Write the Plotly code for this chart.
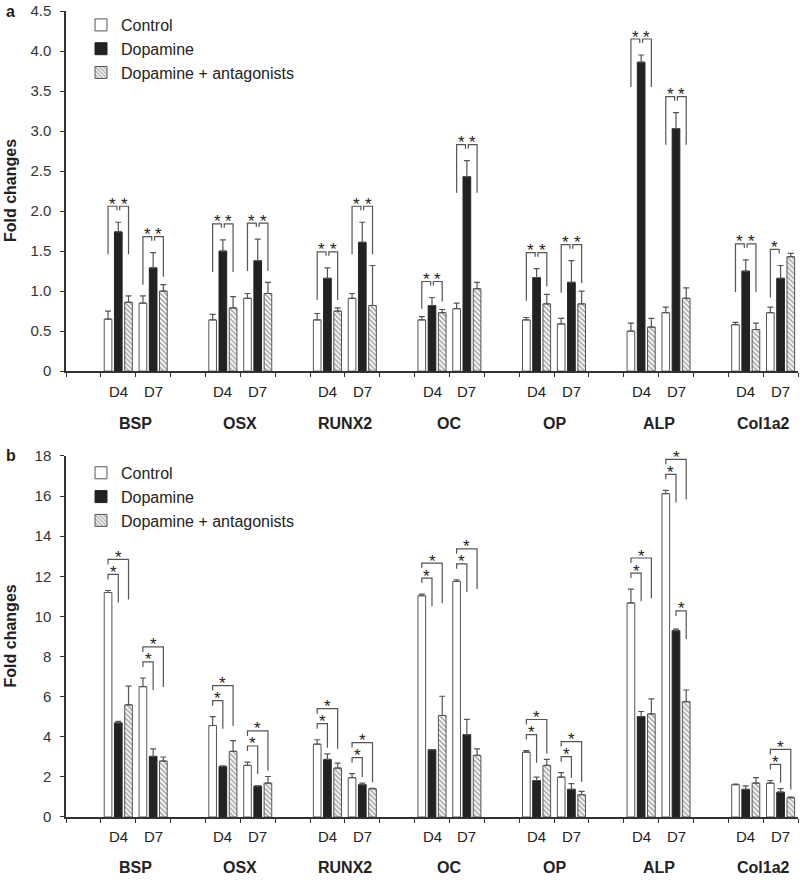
import plotly.graph_objects as go

# ---------------- data ----------------
genes = ["BSP", "OSX", "RUNX2", "OC", "OP", "ALP", "Col1a2"]
days = ["D4", "D7"]
series_names = ["Control", "Dopamine", "Dopamine + antagonists"]

# panel a (gene-major, day-minor: BSP D4, BSP D7, OSX D4, ...)
a_control = [0.65, 0.85, 0.64, 0.91, 0.64, 0.91, 0.64, 0.78, 0.64, 0.59, 0.50, 0.73, 0.58, 0.73]
a_control_err = [0.10, 0.09, 0.07, 0.06, 0.08, 0.06, 0.04, 0.07, 0.03, 0.07, 0.10, 0.07, 0.03, 0.07]
a_dopamine = [1.74, 1.29, 1.50, 1.38, 1.16, 1.61, 0.82, 2.43, 1.17, 1.11, 3.86, 3.03, 1.25, 1.16]
a_dopamine_err = [0.12, 0.19, 0.14, 0.27, 0.13, 0.25, 0.10, 0.20, 0.11, 0.27, 0.09, 0.20, 0.14, 0.16]
a_antag = [0.86, 1.00, 0.79, 0.97, 0.75, 0.82, 0.73, 1.03, 0.84, 0.84, 0.55, 0.91, 0.52, 1.43]
a_antag_err = [0.08, 0.08, 0.14, 0.14, 0.04, 0.50, 0.04, 0.08, 0.12, 0.16, 0.11, 0.13, 0.08, 0.04]

# panel b
b_control = [11.19, 6.50, 4.56, 2.57, 3.63, 1.96, 11.03, 11.74, 3.23, 1.99, 10.67, 16.12, 1.61, 1.69]
b_control_err = [0.10, 0.43, 0.44, 0.17, 0.22, 0.20, 0.08, 0.08, 0.08, 0.22, 0.69, 0.16, 0.03, 0.13]
b_dopamine = [4.69, 3.02, 2.52, 1.54, 2.87, 1.61, 3.35, 4.11, 1.82, 1.38, 5.01, 9.29, 1.38, 1.24]
b_dopamine_err = [0.08, 0.38, 0.03, 0.03, 0.28, 0.08, 0.00, 0.76, 0.17, 0.28, 0.25, 0.08, 0.17, 0.17]
b_antag = [5.59, 2.79, 3.27, 1.69, 2.44, 1.41, 5.06, 3.07, 2.57, 1.11, 5.14, 5.75, 1.69, 0.96]
b_antag_err = [0.93, 0.20, 0.54, 0.33, 0.25, 0.02, 0.96, 0.33, 0.30, 0.17, 0.75, 0.58, 0.27, 0.03]

# significant comparisons (0=Control, 1=Dopamine, 2=Dopamine + antagonists)
a_sig = [[(0, 1), (1, 2)]] * 13 + [[(0, 1)]]
b_sig = [[(0, 1), (0, 2)]] * 11 + [[(0, 1), (0, 2), (1, 2)], [], [(0, 1), (0, 2)]]

a_ticks = [0, 0.5, 1.0, 1.5, 2.0, 2.5, 3.0, 3.5, 4.0, 4.5]
a_ticktext = ["0", "0.5", "1.0", "1.5", "2.0", "2.5", "3.0", "3.5", "4.0", "4.5"]
b_ticks = [0, 2, 4, 6, 8, 10, 12, 14, 16, 18]
b_ticktext = [str(v) for v in b_ticks]

# ---------------- layout constants ----------------
FONT = "Liberation Sans, Arial, sans-serif"
BARGAP = 0.12
BARGROUPGAP = 0.25
SLOT = (1 - BARGAP) / 3
LINEC = "#555555"
TEXTC = "#222222"

xpos = [3 * g + 1 + d for g in range(len(genes)) for d in range(len(days))]
ncat = 3 * len(genes)

styles = [
    dict(color="white", line=dict(color=LINEC, width=1)),
    dict(color="#222222", line=dict(color="#222222", width=1)),
    dict(color="white", line=dict(color=LINEC, width=1),
         pattern=dict(shape="\\", fgcolor="#4a4a4a", bgcolor="white", size=3.5, solidity=0.45)),
]

fig = go.Figure()

panels = [
    dict(xa="x", ya="y", leg="legend",
         vals=[a_control, a_dopamine, a_antag], errs=[a_control_err, a_dopamine_err, a_antag_err]),
    dict(xa="x2", ya="y2", leg="legend2",
         vals=[b_control, b_dopamine, b_antag], errs=[b_control_err, b_dopamine_err, b_antag_err]),
]

for p in panels:
    for k in range(3):
        fig.add_trace(go.Bar(
            x=xpos, y=p["vals"][k], name=series_names[k],
            marker=styles[k],
            error_y=dict(type="data", array=p["errs"][k], arrayminus=[0] * len(xpos),
                         symmetric=False, color=LINEC, thickness=1.2, width=3),
            xaxis=p["xa"], yaxis=p["ya"], legend=p["leg"], hoverinfo="skip",
        ))

shapes = []
annotations = []


def path(pts, xref, yref):
    d = "M " + " L ".join(f"{x:.4f},{y:.4f}" for x, y in pts)
    return dict(type="path", path=d, xref=xref, yref=yref,
                line=dict(color=LINEC, width=1.2), layer="above")


def star(x, y, xref, yref):
    return dict(x=x, y=y, xref=xref, yref=yref, text="*", showarrow=False,
                font=dict(family=FONT, size=17, color=TEXTC), yanchor="middle", yshift=2)


# panel a brackets
PAD_A, LEG_A, SHORT_A, DELTA = 0.2, 0.6, 0.05, 0.04
for i, xi in enumerate(xpos):
    tops = [a_control[i] + a_control_err[i], a_dopamine[i] + a_dopamine_err[i], a_antag[i] + a_antag_err[i]]
    cx = [xi + (k - 1) * SLOT for k in range(3)]
    pairs = a_sig[i]
    if not pairs:
        continue
    inv = sorted({k for pr in pairs for k in pr})
    top = max(tops[k] for k in inv) + PAD_A
    for (pa, pb) in pairs:
        if pa == 0:
            xl, xr = cx[0], cx[1] - DELTA
            yl = max(top - LEG_A, tops[0] + 0.1)
            yr = top - SHORT_A
        else:
            xl, xr = cx[1] + DELTA, cx[2]
            yl = top - SHORT_A
            yr = max(top - LEG_A, tops[2] + 0.1)
        shapes.append(path([(xl, yl), (xl, top), (xr, top), (xr, yr)], "x", "y"))
        annotations.append(star((xl + xr) / 2, top, "x", "y"))

# panel b brackets
PAD_B, STEP_B, SHORT_B = 0.8, 0.75, 0.25
for i, xi in enumerate(xpos):
    tops = [b_control[i] + b_control_err[i], b_dopamine[i] + b_dopamine_err[i], b_antag[i] + b_antag_err[i]]
    cx = [xi + (k - 1) * SLOT for k in range(3)]
    inner = max(tops[0], tops[1]) + PAD_B
    for (pa, pb) in b_sig[i]:
        if (pa, pb) == (0, 1):
            top = inner
            yr = max(top - 1.4, tops[1] + 0.3)
        elif (pa, pb) == (0, 2):
            top = inner + STEP_B
            yr = max(top - 2.0, tops[2] + 0.3)
        else:
            top = max(tops[1], tops[2]) + 0.9
            yr = max(top - 1.4, tops[2] + 0.3)
        xl, xr = cx[pa], cx[pb]
        shapes.append(path([(xl, top - SHORT_B), (xl, top), (xr, top), (xr, yr)], "x2", "y2"))
        annotations.append(star((xl + xr) / 2, top, "x2", "y2"))

# category labels, underlines, gene names
for xa, ya, gshift in [("x", "y", -52), ("x2", "y2", -51)]:
    for g, gene in enumerate(genes):
        for d, day in enumerate(days):
            annotations.append(dict(x=3 * g + 1 + d, y=0, xref=xa, yref=ya, text=day, showarrow=False,
                                    yanchor="middle", yshift=-20,
                                    font=dict(family=FONT, size=15, color=TEXTC)))
        shapes.append(dict(type="line", xref=xa, yref=ya, ysizemode="pixel", yanchor=0,
                           x0=3 * g + 0.5, x1=3 * g + 2.62, y0=-34.5, y1=-34.5,
                           line=dict(color="#333333", width=1.3)))
        annotations.append(dict(x=3 * g + 1.5, y=0, xref=xa, yref=ya, text=f"<b>{gene}</b>",
                                showarrow=False, yanchor="middle", yshift=gshift,
                                font=dict(family=FONT, size=16, color=TEXTC)))

# panel letters and y titles
L, R, T, B = 66, 2, 9, 64
W, H = 800, 881
PW, PH = W - L - R, H - T - B
A_DOM = [(817 - 370) / PH, 1.0]
B_DOM = [0.0, (817 - 455) / PH]


def px_x(px):
    return (px - L) / PW


def px_y(py):
    return (H - B - py) / PH


annotations.append(dict(x=px_x(10), y=px_y(10), xref="paper", yref="paper", text="<b>a</b>",
                        showarrow=False, xanchor="center", yanchor="middle",
                        font=dict(family=FONT, size=16, color=TEXTC)))
annotations.append(dict(x=px_x(11), y=px_y(455), xref="paper", yref="paper", text="<b>b</b>",
                        showarrow=False, xanchor="center", yanchor="middle",
                        font=dict(family=FONT, size=16, color=TEXTC)))
for cy in [(9 + 370) / 2, (455 + 817) / 2]:
    annotations.append(dict(x=px_x(10), y=px_y(cy), xref="paper", yref="paper",
                            text="<b>Fold changes</b>", textangle=-90, showarrow=False,
                            xanchor="center", yanchor="middle",
                            font=dict(family=FONT, size=16, color=TEXTC)))

xaxis_common = dict(range=[-0.5, ncat - 0.5], showline=True, linecolor="#333333", linewidth=1.5,
                    ticks="outside", ticklen=4, tickwidth=1.3, tickcolor="#333333",
                    tickvals=[i - 0.5 for i in range(ncat + 1)], showticklabels=False,
                    showgrid=False, zeroline=False, fixedrange=True)
yaxis_common = dict(showline=True, linecolor="#333333", linewidth=1.5,
                    ticks="outside", ticklen=4, tickwidth=1.3, tickcolor="#333333",
                    showgrid=False, zeroline=False, ticklabelstandoff=6,
                    tickfont=dict(family=FONT, size=15, color="#333333"))

legend_common = dict(font=dict(family=FONT, size=16, color=TEXTC), bgcolor="rgba(0,0,0,0)",
                     xanchor="left", yanchor="top", traceorder="normal", itemwidth=30)

fig.update_layout(
    width=W, height=H,
    margin=dict(l=L, r=R, t=T, b=B),
    paper_bgcolor="white", plot_bgcolor="white",
    barmode="group", bargap=BARGAP, bargroupgap=BARGROUPGAP,
    font=dict(family=FONT, color=TEXTC),
    xaxis=dict(domain=[0, 1], anchor="y", **xaxis_common),
    xaxis2=dict(domain=[0, 1], anchor="y2", **xaxis_common),
    yaxis=dict(domain=A_DOM, anchor="x", range=[0, 4.5], tickvals=a_ticks, ticktext=a_ticktext, **yaxis_common),
    yaxis2=dict(domain=B_DOM, anchor="x2", range=[0, 18], tickvals=b_ticks, ticktext=b_ticktext, **yaxis_common),
    legend=dict(x=px_x(81), y=px_y(6), **legend_common),
    legend2=dict(x=px_x(81), y=px_y(455), **legend_common),
    shapes=shapes, annotations=annotations, showlegend=True,
)

fig.write_html("out.html", config={"displayModeBar": False},
               post_script="document.body.style.margin='0';document.body.style.padding='0';")
